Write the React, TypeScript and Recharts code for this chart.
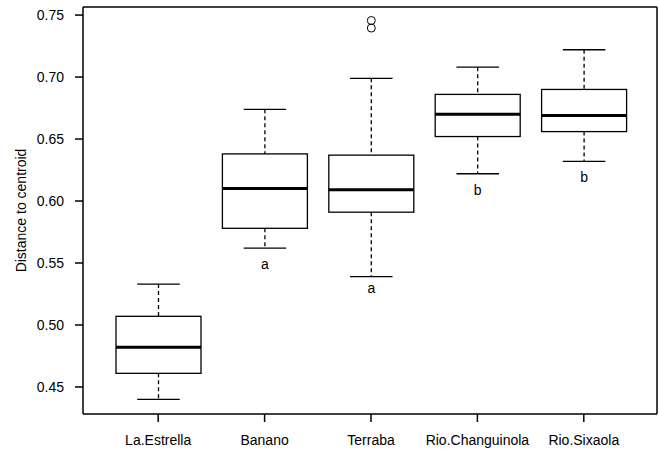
import { ComposedChart, Bar, XAxis, YAxis } from 'recharts';

const sites = ['La.Estrella', 'Banano', 'Terraba', 'Rio.Changuinola', 'Rio.Sixaola'];
const whiskerLow = [0.440, 0.562, 0.539, 0.622, 0.632];
const q1 = [0.461, 0.578, 0.591, 0.652, 0.656];
const median = [0.482, 0.610, 0.609, 0.670, 0.669];
const q3 = [0.507, 0.638, 0.637, 0.686, 0.690];
const whiskerHigh = [0.533, 0.674, 0.699, 0.708, 0.722];
const outliers = [[], [], [0.7456, 0.7395], [], []];
const groupLetters = ['', 'a', 'a', 'b', 'b'];
const letterAt = [null, 0.5452, 0.5258, 0.6048, 0.6153];
const yTicks = [0.45, 0.5, 0.55, 0.6, 0.65, 0.7, 0.75];

const data = sites.map((name, i) => ({
  name,
  low: whiskerLow[i],
  q1: q1[i],
  med: median[i],
  q3: q3[i],
  high: whiskerHigh[i],
  out: outliers[i],
  letter: groupLetters[i],
  letterAt: letterAt[i],
}));

const BoxShape = (props: any) => {
  const { x, y, width, height, payload } = props;
  const { low, high } = payload;
  const k = height / (high - low);
  const py = (v: number) => y + (high - v) * k;
  const cx = x + width / 2;
  const cap = width / 4;
  return (
    <g>
      {/* whiskers */}
      <line x1={cx} x2={cx} y1={py(high)} y2={py(payload.q3)} stroke="#000" strokeWidth={1.3} strokeDasharray="4 3" />
      <line x1={cx} x2={cx} y1={py(payload.q1)} y2={py(low)} stroke="#000" strokeWidth={1.3} strokeDasharray="4 3" />
      <line x1={cx - cap} x2={cx + cap} y1={py(high)} y2={py(high)} stroke="#000" strokeWidth={1.3} />
      <line x1={cx - cap} x2={cx + cap} y1={py(low)} y2={py(low)} stroke="#000" strokeWidth={1.3} />
      {/* box */}
      <rect x={x} y={py(payload.q3)} width={width} height={py(payload.q1) - py(payload.q3)} fill="#fff" stroke="#000" strokeWidth={1.3} />
      <line x1={x} x2={x + width} y1={py(payload.med)} y2={py(payload.med)} stroke="#000" strokeWidth={3} />
      {payload.out.map((v: number, j: number) => (
        <circle key={j} cx={cx} cy={py(v)} r={4} fill="none" stroke="#000" strokeWidth={1} />
      ))}
      {payload.letter && (
        <text x={cx} y={py(payload.letterAt)} textAnchor="middle" fontSize={14} fill="#000">
          {payload.letter}
        </text>
      )}
    </g>
  );
};

const YLabel = (props: any) => {
  const { viewBox } = props;
  const cy = viewBox.y + viewBox.height / 2;
  return (
    <text x={21} y={cy} transform={`rotate(-90, 21, ${cy})`} textAnchor="middle" dominantBaseline="central" fontSize={14} fill="#000">
      Distance to centroid
    </text>
  );
};

export default function App() {
  return (
    <div style={{ position: 'absolute', left: 0, top: 0, fontFamily: '"Liberation Sans", Arial, sans-serif', background: '#fff' }}>
      <ComposedChart width={660} height={455} data={data} margin={{ top: 0, right: 0, bottom: 0, left: 0 }}>
        <XAxis
          dataKey="name"
          height={41}
          padding={{ left: 22, right: 20 }}
          stroke="#000"
          strokeWidth={1.5}
          tickSize={8}
          tickMargin={13}
          tick={{ fill: '#000', fontSize: 14 }}
          interval={0}
        />
        <XAxis xAxisId="top" dataKey="name" orientation="top" height={7} stroke="#000" strokeWidth={1.5} tick={false} tickLine={false} />
        <YAxis
          domain={[0.4282, 0.7565]}
          ticks={yTicks}
          width={83}
          stroke="#000"
          strokeWidth={1.5}
          tickSize={8}
          tickMargin={11}
          tick={{ fill: '#000', fontSize: 14 }}
          tickFormatter={(v: number) => v.toFixed(2)}
          allowDataOverflow
          label={<YLabel />}
        />
        <YAxis yAxisId="right" orientation="right" width={3} domain={[0.4282, 0.7565]} stroke="#000" strokeWidth={1.5} tick={false} tickLine={false} />
        <Bar dataKey={(d: any) => [d.low, d.high]} barSize={85} shape={<BoxShape />} isAnimationActive={false} />
      </ComposedChart>
    </div>
  );
}
